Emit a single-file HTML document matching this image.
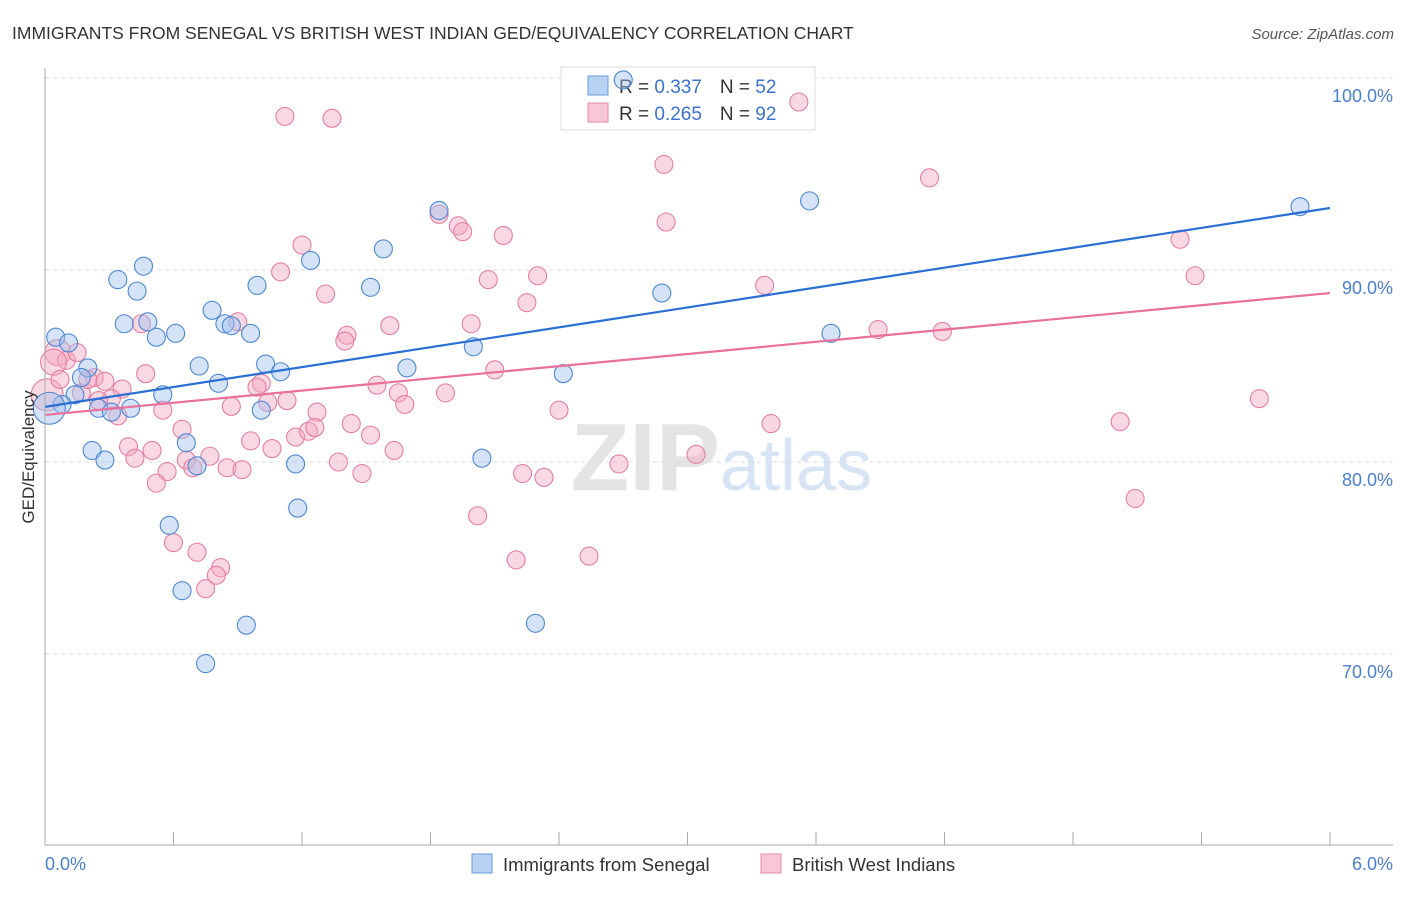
<!DOCTYPE html>
<html><head><meta charset="utf-8"><style>
body{margin:0;background:#fff;font-family:"Liberation Sans",sans-serif}
svg text{font-family:"Liberation Sans",sans-serif}
</style></head><body>
<svg id="c" width="1406" height="892">
<text x="12" y="39" font-size="17.5" fill="#333">IMMIGRANTS FROM SENEGAL VS BRITISH WEST INDIAN GED/EQUIVALENCY CORRELATION CHART</text>
<text x="1394" y="39" font-size="15" fill="#555" font-style="italic" text-anchor="end">Source: ZipAtlas.com</text>
<text x="720" y="490" font-size="96" fill="#e4e4e4" text-anchor="end" font-family="Liberation Serif" font-weight="bold">ZIP</text>
<text x="720" y="490" font-size="72" fill="#d6e4f4">atlas</text>
<g id="grid"></g>
<g>
<rect x="561" y="67" width="254" height="63" fill="#fff" stroke="#ddd"/>
<rect x="588" y="76" width="20" height="19" fill="#b8d2f4" stroke="#6a9ad8"/>
<rect x="588" y="103" width="20" height="19" fill="#f8c6d6" stroke="#e88aa8"/>
<text x="619" y="93" font-size="19" fill="#333">R = <tspan fill="#3a72cc">0.337</tspan><tspan dx="18">N = </tspan><tspan fill="#3a72cc">52</tspan></text>
<text x="619" y="120" font-size="19" fill="#333">R = <tspan fill="#3a72cc">0.265</tspan><tspan dx="18">N = </tspan><tspan fill="#3a72cc">92</tspan></text>
</g>
<g id="pts"></g><g id="lines"></g>
<line x1="45" y1="845" x2="1393" y2="845" stroke="#aaa"/>
<line x1="45" y1="68" x2="45" y2="845" stroke="#aaa"/>
<text transform="translate(34,457) rotate(-90)" font-size="17" fill="#333" text-anchor="middle">GED/Equivalency</text>
<text x="45" y="870" font-size="18" fill="#4a7fd0">0.0%</text>
<text x="1393" y="870" font-size="18" fill="#4a7fd0" text-anchor="end">6.0%</text>
<g>
<rect x="472" y="854" width="20" height="19" fill="#b8d2f4" stroke="#6a9ad8"/>
<text x="503" y="871" font-size="18.5" fill="#333">Immigrants from Senegal</text>
<rect x="761" y="854" width="20" height="19" fill="#f8c6d6" stroke="#e88aa8"/>
<text x="792" y="871" font-size="18.5" fill="#333">British West Indians</text>
</g>
</svg>
<script>
const yTicks=[70,80,90,100];
const yTickLabels=["70.0%","80.0%","90.0%","100.0%"];
const xTicks=[1,2,3,4,5,6,7,8,9,10];
const blueX=[2.70,0.05,0.11,0.20,0.17,0.14,0.08,0.02,0.25,0.31,0.40,0.55,0.34,0.43,0.46,0.37,0.48,0.52,0.61,0.78,0.84,0.87,0.96,0.99,0.72,0.81,1.03,1.10,1.01,1.24,1.52,1.58,1.84,1.69,2.00,0.22,0.28,0.66,0.71,1.17,1.18,0.58,0.64,0.94,0.75,2.04,2.29,2.42,2.88,3.57,3.67,5.86];
const blueY=[99.9,86.5,86.2,84.9,84.4,83.5,83.0,82.8,82.8,82.6,82.8,83.5,89.5,88.9,90.2,87.2,87.3,86.5,86.7,87.9,87.2,87.1,86.7,89.2,85.0,84.1,85.1,84.7,82.7,90.5,89.1,91.1,93.1,84.9,86.0,80.6,80.1,81.0,79.8,79.9,77.6,76.7,73.3,71.5,69.5,80.2,71.6,84.6,88.8,93.6,86.7,93.3];
const pinkX=[3.52,1.12,1.34,2.89,4.13,1.84,1.93,1.95,2.14,2.90,1.20,1.10,2.07,2.30,1.31,2.25,3.36,5.30,5.37,3.89,4.19,0.06,0.10,0.15,0.04,0.45,0.90,1.61,1.41,1.40,1.99,0.23,0.28,0.36,0.17,0.31,0.25,0.34,0.20,0.47,0.55,0.87,1.01,0.99,1.04,1.13,1.27,1.55,1.65,1.68,1.87,2.10,2.40,0.39,0.42,0.50,0.64,0.57,0.52,0.66,0.69,0.77,0.85,0.92,0.96,1.06,1.17,1.23,1.26,1.43,1.52,1.63,1.37,1.48,2.23,2.33,2.68,3.04,3.39,5.02,5.67,5.09,2.02,2.20,2.54,0.60,0.71,0.82,0.80,0.75,0.01,0.07];
const pinkY=[98.75,98.0,97.9,95.5,94.8,92.9,92.3,92.0,91.8,92.5,91.3,89.9,89.5,89.7,88.75,88.3,89.2,91.6,89.7,86.9,86.8,85.7,85.3,85.7,85.2,87.2,87.3,87.1,86.6,86.3,87.2,84.4,84.2,83.8,83.6,83.3,83.2,82.4,84.3,84.6,82.7,82.9,84.1,83.9,83.1,83.2,82.6,84.0,83.6,83.0,83.6,84.8,82.7,80.8,80.2,80.6,81.7,79.5,78.9,80.1,79.7,80.3,79.7,79.6,81.1,80.7,81.3,81.6,81.8,82.0,81.4,80.6,80.0,79.4,79.4,79.2,79.9,80.4,82.0,82.1,83.3,78.1,77.2,74.9,75.1,75.8,75.3,74.5,74.1,73.4,83.5,84.3];
const blueTrend=[82.87,93.23];
const pinkTrend=[82.45,88.80];
const X=v=>45+v/6*1285, Y=v=>78+(100-v)*19.2;
const NS="http://www.w3.org/2000/svg";
const g=document.getElementById('grid'),p=document.getElementById('pts'),l=document.getElementById('lines');
yTicks.forEach((t,i)=>{
 const ln=document.createElementNS(NS,'line');
 ln.setAttribute('x1',45);ln.setAttribute('x2',1393);ln.setAttribute('y1',Y(t));ln.setAttribute('y2',Y(t));
 ln.setAttribute('stroke','#ddd');ln.setAttribute('stroke-dasharray','4,4');
 
 
 g.appendChild(ln);
 const tx=document.createElementNS(NS,'text');
 tx.setAttribute('x',1393);tx.setAttribute('y',Y(t)+24);tx.setAttribute('text-anchor','end');
 tx.setAttribute('font-size','18');tx.setAttribute('fill','#4a7fd0');tx.textContent=yTickLabels[i];
 
 
 g.appendChild(tx);
});
xTicks.forEach(t=>{
 const ln=document.createElementNS(NS,'line');
 const x=X(t*0.6);
 ln.setAttribute('x1',x);ln.setAttribute('x2',x);ln.setAttribute('y1',832);ln.setAttribute('y2',845);
 ln.setAttribute('stroke','#aaa');
 
 
 g.appendChild(ln);
});
function dots(xs,ys,fill,stroke,name){
 xs.forEach((x,i)=>{
  const c=document.createElementNS(NS,'circle');
  let r=9; if(x<0.03) r=16; else if(x<0.07 && name==='pink') r=13;
  c.setAttribute('cx',X(x));c.setAttribute('cy',Y(ys[i]));c.setAttribute('r',r);
  c.setAttribute('fill',fill);c.setAttribute('fill-opacity','0.45');c.setAttribute('stroke',stroke);c.setAttribute('stroke-width','1.1');
  
  
  p.appendChild(c);
 });
}
dots(pinkX,pinkY,'#f4a9c0','#e57fa0','pink');
dots(blueX,blueY,'#9fc2ee','#4f86d4','blue');
function trend(t,col,name){
 const ln=document.createElementNS(NS,'line');
 ln.setAttribute('x1',X(0));ln.setAttribute('x2',X(6));ln.setAttribute('y1',Y(t[0]));ln.setAttribute('y2',Y(t[1]));
 ln.setAttribute('stroke',col);ln.setAttribute('stroke-width','2.2');
 
 
 l.appendChild(ln);
}
trend(pinkTrend,'#e8709a','pink-trend-line');
trend(blueTrend,'#2a6fd4','blue-trend-line');
</script>
</body></html>
